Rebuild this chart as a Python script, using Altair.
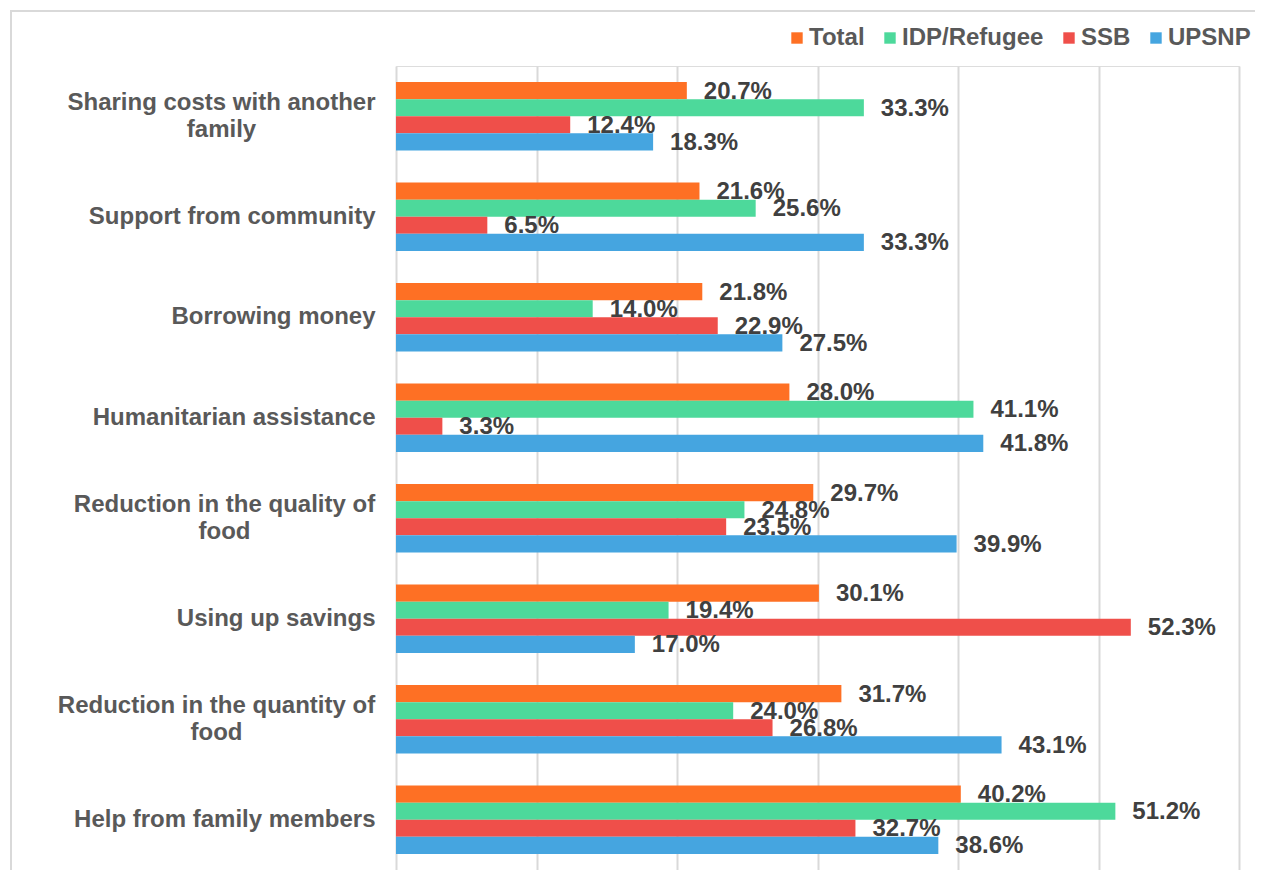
import altair as alt
import pandas as pd

categories = [
    "Sharing costs with another family",
    "Support from community",
    "Borrowing money",
    "Humanitarian assistance",
    "Reduction in the quality of food",
    "Using up savings",
    "Reduction in the quantity of food",
    "Help from family members",
]
series = ["Total", "IDP/Refugee", "SSB", "UPSNP"]
total = [20.7, 21.6, 21.8, 28.0, 29.7, 30.1, 31.7, 40.2]
idp = [33.3, 25.6, 14.0, 41.1, 24.8, 19.4, 24.0, 51.2]
ssb = [12.4, 6.5, 22.9, 3.3, 23.5, 52.3, 26.8, 32.7]
upsnp = [18.3, 33.3, 27.5, 41.8, 39.9, 17.0, 43.1, 38.6]
colors = ["#FE7024", "#4DD99B", "#EF4F4A", "#45A5E0"]

rows = []
for s, vals in zip(series, [total, idp, ssb, upsnp]):
    for c, v in zip(categories, vals):
        rows.append({"category": c, "series": s, "value": v, "label": f"{v:.1f}%"})
df = pd.DataFrame(rows)

label_expr = (
    "datum.value == 'Sharing costs with another family' ? ['Sharing costs with another', 'family'] : "
    "datum.value == 'Reduction in the quality of food' ? ['Reduction in the quality of', 'food'] : "
    "datum.value == 'Reduction in the quantity of food' ? ['Reduction in the quantity of', 'food'] : datum.value"
)
t_share = "datum.value == 'Sharing costs with another family'"
t_qual = "datum.value == 'Reduction in the quality of food'"
t_quant = "datum.value == 'Reduction in the quantity of food'"
multi_test = f"{t_share} || {t_qual} || {t_quant}"

FONT = "Liberation Sans"
FS = 24

base = alt.Chart(df).encode(
    y=alt.Y(
        "category:N",
        sort=categories,
        scale=alt.Scale(paddingInner=0.32, paddingOuter=0.16),
        axis=alt.Axis(
            title=None, domain=False, ticks=False, labelExpr=label_expr,
            labelFont=FONT, labelFontSize=FS, labelFontWeight="bold",
            labelColor="#595959", labelLineHeight=27,
            labelLimit=420,
            labelAlign={"condition": {"test": multi_test, "value": "center"}, "value": "right"},
            labelPadding={"condition": [
                {"test": t_share, "value": 175},
                {"test": t_qual, "value": 172},
                {"test": t_quant, "value": 180},
            ], "value": 21},
            labelOffset={"condition": {"test": multi_test, "value": -13.5}, "value": 0},
        ),
    ),
    yOffset=alt.YOffset("series:N", sort=series, scale=alt.Scale(domain=series, paddingInner=0, paddingOuter=0)),
    x=alt.X(
        "value:Q",
        scale=alt.Scale(domain=[0, 60], nice=False),
        axis=alt.Axis(
            title=None, labels=False, ticks=False, domain=False,
            values=[0, 10, 20, 30, 40, 50, 60],
            gridColor="#D9D9D9", gridWidth=2,
        ),
    ),
)

bars = base.mark_bar().encode(
    color=alt.Color(
        "series:N",
        sort=series,
        scale=alt.Scale(domain=series, range=colors),
        legend=alt.Legend(
            title=None, orient="none", direction="horizontal",
            legendX=389, legendY=-40,
            symbolType="square", symbolSize=130, symbolStrokeWidth=0,
            labelFont=FONT, labelFontSize=FS, labelFontWeight="bold",
            labelColor="#595959", labelOffset=0, columnPadding=13,
        ),
    )
)

texts = base.mark_text(
    align="left", baseline="middle", dx=17, dy=1,
    font=FONT, fontSize=FS, fontWeight="bold", color="#404040",
).encode(text="label:N")

frame = alt.Chart(pd.DataFrame({"f": [0]})).mark_rect(
    fill=None, stroke="#D9D9D9", strokeWidth=2
).encode(
    x=alt.value(-385), x2=alt.value(880), y=alt.value(-55), y2=alt.value(830)
)

chart = alt.layer(frame, bars, texts).properties(
    width=843, height=804,
    padding={"left": 388, "top": 58, "right": 16, "bottom": 0},
    autosize=alt.AutoSizeParams(type="none"),
).configure_view(stroke=None).configure(background="white")

chart.save("out.html", embed_options={"renderer": "svg", "actions": False})
